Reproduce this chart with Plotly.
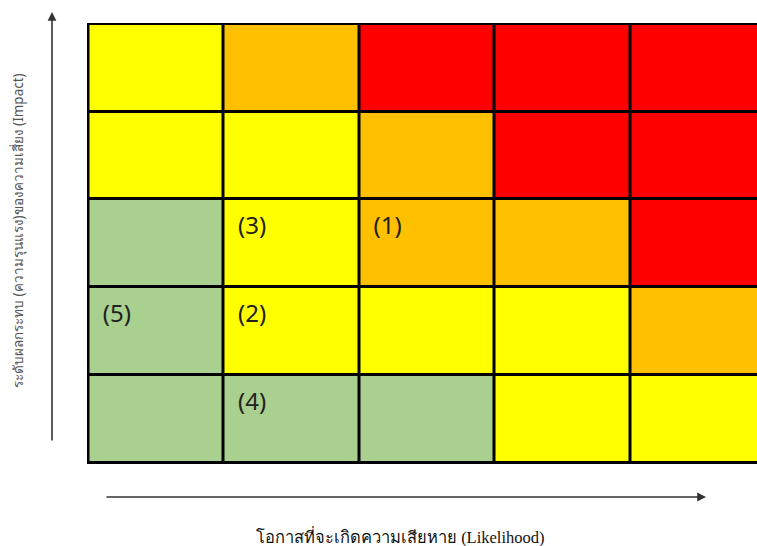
import plotly.graph_objects as go

# Likelihood (x, columns 1..5) and Impact (y, rows 1..5 from bottom)
likelihood = [1, 2, 3, 4, 5]
impact = [1, 2, 3, 4, 5]
# Risk level per cell: 0 = low (green), 1 = medium (yellow), 2 = high (orange), 3 = very high (red)
risk_level = [
    [0, 0, 0, 1, 1],  # impact 1
    [0, 1, 1, 1, 2],  # impact 2
    [0, 1, 2, 2, 3],  # impact 3
    [1, 1, 2, 3, 3],  # impact 4
    [1, 2, 3, 3, 3],  # impact 5
]
level_colors = ["#A9D08E", "#FFFF00", "#FFC000", "#FF0000"]

# Risk items placed in cells
item_labels = ["(1)", "(2)", "(3)", "(4)", "(5)"]
item_likelihood = [3, 2, 2, 2, 1]
item_impact = [3, 2, 3, 1, 2]

x_title = "โอกาสที่จะเกิดความเสียหาย (Likelihood)"
y_title = "ระดับผลกระทบ (ความรุนแรง)ของความเสี่ยง (Impact)"

W, H = 757, 546
ML, MT, MB, MR = 87, 23, 82, 0
col_px = 135.4
row_px = 87.7
pw = W - ML - MR
ph = H - MT - MB
x0 = 0.5 - 1.5 / col_px
y0 = 0.5 - 1.5 / row_px
xr = [x0, x0 + pw / col_px]
yr = [y0, y0 + ph / row_px]

n = len(level_colors) - 1
colorscale = [[i / n, c] for i, c in enumerate(level_colors)]

fig = go.Figure()
fig.add_trace(go.Heatmap(
    x=likelihood, y=impact, z=risk_level,
    zmin=0, zmax=n, colorscale=colorscale, showscale=False,
    xgap=3, ygap=3, hoverinfo="skip",
))
fig.add_trace(go.Scatter(
    x=[v - 0.395 for v in item_likelihood],
    y=[v + 0.17 for v in item_impact],
    mode="text", text=item_labels, textposition="middle right",
    textfont=dict(family="Noto Sans", size=24, color="#222222"),
    hoverinfo="skip", showlegend=False,
))

def px_to_paper_x(px):
    return (px - ML) / pw

def px_to_paper_y(py):
    return (H - MB - py) / ph

annotations = [
    # vertical arrow
    dict(x=px_to_paper_x(52), y=px_to_paper_y(12), xref="paper", yref="paper",
         ax=0, ay=430, showarrow=True, arrowhead=2, arrowsize=1.1,
         arrowwidth=1.6, arrowcolor="#333333", text=""),
    # horizontal arrow
    dict(x=px_to_paper_x(706), y=px_to_paper_y(497), xref="paper", yref="paper",
         ax=-601, ay=0, showarrow=True, arrowhead=2, arrowsize=1.1,
         arrowwidth=1.6, arrowcolor="#333333", text=""),
    dict(x=px_to_paper_x(400), y=px_to_paper_y(536), xref="paper", yref="paper",
         xanchor="center", yanchor="middle",
         text=x_title, showarrow=False,
         font=dict(family="Liberation Serif, Noto Serif, serif", size=16.5, color="#111111")),
    dict(x=px_to_paper_x(18), y=px_to_paper_y(231), xref="paper", yref="paper",
         xanchor="center", yanchor="middle",
         text=y_title, showarrow=False, textangle=-90,
         font=dict(family="Noto Sans, DejaVu Sans, sans-serif", size=13.5, color="#555555")),
]

fig.update_layout(
    width=W, height=H,
    margin=dict(l=ML, r=MR, t=MT, b=MB, pad=0),
    paper_bgcolor="white", plot_bgcolor="black",
    xaxis=dict(range=xr, visible=False, fixedrange=True),
    yaxis=dict(range=yr, visible=False, fixedrange=True),
    annotations=annotations,
    showlegend=False,
)

fig.write_html(
    "out.html",
    config={"displayModeBar": False},
    post_script="document.body.style.margin='0';document.body.style.overflow='hidden';",
)
